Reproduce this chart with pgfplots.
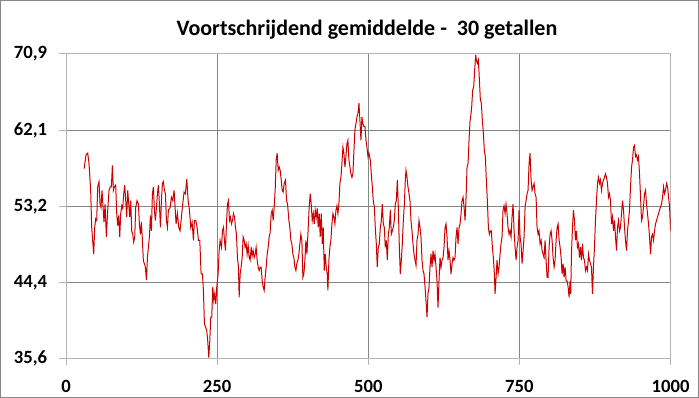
\documentclass[border=0pt]{standalone}
\usepackage{fontspec}
\setmainfont{Carlito}
\usepackage{pgfplots}
\pgfplotsset{compat=1.18}
\definecolor{gridgray}{RGB}{134,134,134}
\definecolor{framegray}{RGB}{180,180,180}
\definecolor{bordergray}{RGB}{134,134,134}
\definecolor{linered}{RGB}{204,0,0}
\begin{document}
\begin{tikzpicture}
\useasboundingbox (0,0) rectangle (524.25pt,298.5pt);
\draw[bordergray, line width=0.75pt] (0.375pt,0.375pt) rectangle (523.875pt,298.125pt);
\node[font=\fontsize{16.5}{19}\selectfont\bfseries, anchor=base] at (275.2pt,272pt) {Voortschrijdend gemiddelde -\ \ 30 getallen};
\begin{axis}[
  at={(49.5pt,29.6pt)}, anchor=south west,
  scale only axis, width=453.4pt, height=228.4pt,
  xmin=0, xmax=1000, ymin=35.6, ymax=70.9,
  xtick={0,250,500,750,1000},
  xticklabels={0,250,500,750,1000},
  ytick={35.6,44.425,53.25,62.075,70.9},
  yticklabels={{35,6},{44,4},{53,2},{62,1},{70,9}},
  tick pos=left, tick align=outside, major tick length=5pt,
  tick style={framegray, line width=0.75pt},
  axis line style={framegray, line width=0.75pt},
  grid=major, major grid style={gridgray, line width=0.75pt},
  ticklabel style={font=\fontsize{14}{16}\selectfont\bfseries},
  /pgf/number format/assume math mode=true,
  yticklabel style={xshift=-5.6pt},
  xticklabel style={yshift=-7.4pt},
]
\addplot[linered, line width=0.75pt] coordinates {
(30,57.6)(33.1,59.2)(35.9,59.4)(38.1,58.2)(40.8,55.1)(42.5,50.8)(44.1,49.3)(45.8,47.7)(47.5,50.8)(49.1,51.8)(50.8,51.6)(52.4,55.5)(54.6,56.1)(56.3,53.5)(57.9,53.1)(59.6,55.1)(61.3,53.1)(62.9,51.4)(64.6,53.5)(66.8,49.7)(69,52.8)(71.2,55.1)(73.4,55.5)(75.1,55.5)(76.7,58)(78.4,55.1)(80,55.5)(82.2,55.7)(83.9,52.4)(85.5,51)(87.2,52.2)(88.9,49.7)(90.5,52.4)(92.2,53.3)(93.8,53)(95.5,54.7)(97.1,55.7)(98.8,53.9)(100.4,52)(102.1,55.1)(103.8,53.5)(105.4,52)(107.1,53.9)(108.7,50.4)(110.4,50)(112,49.1)(113.7,49.7)(115.3,53.1)(117.5,53.9)(119.8,53.5)(121.4,51.2)(123.1,50)(124.7,51.4)(126.4,49.3)(128,46.9)(129.7,46.6)(131.3,46.2)(133,44.7)(134.7,47.3)(136.3,48.5)(138,49.7)(139.6,52.2)(141.3,50.4)(142.9,54.7)(144.6,55.5)(146.2,52.8)(147.9,51.6)(149.6,53.1)(151.2,54.7)(152.9,55.7)(154.5,53.5)(156.2,50.8)(157.8,53.9)(159.5,55.9)(161.1,56.1)(162.8,55.1)(164.5,54.7)(166.1,51.6)(167.8,50.8)(169.4,52.8)(172.2,53.1)
(174.4,54.3)(176.6,53.9)(178.8,55.1)(180.4,53.2)(182.1,51.2)(184.3,52.4)(186.5,50.8)(188.7,50.4)(190.9,52)(193.1,53.5)(195.3,54.9)(197.5,54.7)(199.8,56.4)(202,53.9)(204.2,52.8)(206.4,50.8)(208.6,51.4)(210.8,49.3)(212.4,51.6)(214.7,51.6)(216.9,50.8)(219.1,49.3)(221.3,49.3)(223.5,45.4)(225.7,45.4)(227.3,43.5)(229,39.6)(231.2,39.2)(232.9,38.8)(234.5,37.6)(236.2,35.7)(237.8,37.6)(239.5,40.4)(241.1,40.4)(242.8,43.9)(244.5,42.3)(246.1,43.1)(247.8,41.9)(249.4,43.9)(251.6,45.4)(253.3,48.1)(254.9,49.3)(257.2,48.5)(258.8,50.4)(260.5,50.8)(262.1,49.3)(263.8,48.1)(265.4,51.2)(267.1,53.5)(268.7,53.9)(270.4,51.6)(272,52)(273.7,51.2)(275.4,51.6)(277,52.4)(278.7,52)(280.3,50.8)(282,50)(283.6,47.3)(285.3,46.2)(286.4,42.7)(288.1,45.4)(289.7,46.2)(291.4,47.3)(293,49.7)(294.7,49.3)(296.3,48.5)(298,48.9)(299.6,47.7)(301.3,48.7)(303,47.3)(304.6,47)(306.3,48.5)(307.9,47.5)(309.6,48.1)(311.2,47.3)(312.9,47.7)(314.5,48.5)(316.2,47)(317.9,46.2)(319.5,45.8)(321.2,46.2)(322.8,46.2)(324.5,44.6)(326.1,43.9)(327.8,43.5)(329.4,45)(331.1,46.2)(332.8,47.7)(334.4,48.5)(336.1,49.7)(337.7,50.2)
(339.4,52.4)(341.1,52.8)(342.7,51.6)(344.4,53.2)(346,55.1)(347.7,58.6)(349.3,59.4)(351,57.4)(352.7,57.8)(354.3,57.4)(356,56.3)(357.6,55.1)(359.3,54.9)(360.9,55.9)(363.1,56.3)(364.8,53.9)(366.5,53.5)(368.7,51.6)(370.3,50.8)(372,49.3)(373.6,48.9)(375.3,47.7)(376.9,47.3)(378.6,46.2)(380.3,45.8)(381.9,46.6)(383.6,47)(385.2,47.7)(386.9,48.9)(388.5,50)(390.2,49.3)(391.8,45)(393.5,45.4)(395.2,47)(396.8,49.3)(398.5,47.7)(400.7,50.8)(402.3,53.2)(404,54.7)(405.6,53.5)(407.3,51.6)(409,52.4)(410.6,51.2)(412.3,52.8)(413.9,52)(415.6,53)(417.2,50.8)(418.9,52.4)(420.5,49.7)(422.2,52.4)(423.9,48.9)(425.5,50.8)(427.2,45.8)(428.8,47.7)(430.5,46.2)(432.1,45.4)(433.2,43.5)(434.9,47)(436.5,48.5)(438.2,49.3)(439.9,51.2)(441.5,52.4)(443.2,52)(444.8,51.2)(446.5,52.8)(448.1,53.3)(449.8,52.4)(451.4,53.5)(453.1,55.9)(454.8,56.6)(456.4,58.2)(458.1,60.1)(459.7,59.4)(461.4,57.8)(463,59)(464.7,60.5)(466.3,60.9)(468,58.6)(469.7,57.8)(471.3,57)(473,56.6)(474.6,57)(476.3,59.7)(477.9,62.1)(479.6,62.8)(481.3,63.6)(482.9,64)(484.6,65.2)(486.2,63.2)(487.9,60.9)(489.5,63.6)(491.2,62.8)(492.8,62.5)(494.5,62.5)(496.2,60.9)(497.8,60.1)(499.5,59)(501.1,59.4)
(503.4,58.6)(505,57)(506.7,55.5)(508.3,53.9)(510,53.2)(511.6,50.8)(513.3,48.9)(514.9,46.2)(516.6,48.5)(518.3,48.9)(519.9,50.8)(521.6,51.6)(523.2,53.5)(524.9,51.2)(526.5,50.8)(528.2,48.5)(529.8,49.3)(531.5,47)(533.2,50)(534.8,50.8)(536.5,52.8)(538.1,50)(539.8,50.4)(541.4,50.8)(543.1,51.6)(544.7,53.5)(546.4,53.9)(548.1,56.3)(549.7,53.2)(551.4,48.5)(553,45.4)(554.7,47)(556.3,48.9)(558,51.6)(559.7,53.5)(561.3,56.3)(562.4,57.4)(564.1,56.6)(565.7,55.5)(567.4,54.7)(569,53.9)(570.7,51.6)(572.3,50.4)(574,48.9)(575.7,47.7)(577.3,47)(579,46.4)(580.6,49.3)(582.3,50)(583.9,51.6)(585.6,50.8)(587.2,49.7)(588.9,47)(590.6,45.8)(592.2,45.4)(593.9,43.9)(595.5,42.3)(597.2,40.4)(598.8,43.1)(600.5,43.9)(602.1,46.2)(603.8,47.7)(605.5,46.2)(607.1,48.1)(608.8,47)(610.4,47.7)(612.1,46.2)(613.7,44.6)(615.4,41.5)(617,44.6)(618.7,47.3)(620.4,46.2)(622,47)(623.7,47.3)(625.3,48.5)(627,50.8)(628.6,51.2)(630.3,49.7)(631.9,47)(633.6,48.1)(635.3,47)(636.9,45.4)(638.6,46.6)(640.2,47.3)(641.9,47)(643.5,47.3)(645.2,49.7)(646.9,50.8)(648.5,48.9)(650.2,50.8)(651.8,51.2)(653.5,52.4)(655.1,53.9)(656.8,54.3)(658.4,53.2)(660.1,51.6)(661.8,54.3)(663.4,57.8)(665.1,58.2)(666.7,60.9)(668.4,63.2)
(669.4,63.6)(671.1,64.8)(672.7,66.7)(674.4,67.1)(676,69)(677.7,70.8)(678.8,70.2)(680.4,69.8)(682.1,70.2)(683.8,67.9)(685.4,65.6)(687.1,65.2)(688.7,63.2)(690.4,61.7)(692,59.7)(693.7,59)(695.3,56.3)(697,53.9)(698.7,50.8)(700.3,50)(702,50.4)(703.6,50.4)(705.3,48.5)(706.9,47.3)(708.6,45.4)(709.7,43.1)(711.4,45)(713,47)(714.7,45.4)(716.3,46.2)(718,47.7)(719.6,48.9)(721.3,49.7)(722.9,52.8)(724.6,53.3)(726.3,52.4)(727.9,53.5)(729.6,52.4)(731.2,50.8)(732.9,50)(734.5,50.4)(736.2,49.7)(737.8,52)(739.5,53.5)(741.2,50.4)(742.8,48.5)(744.5,47)(746.1,48.5)(747.8,49.3)(749.4,52.8)(751.1,49.7)(752.7,48.9)(754.4,46.6)(756.1,48.1)(757.7,49.7)(759.4,53.2)(761,53.9)(762.7,54.7)(764.3,55.1)(766,58.2)(767.6,59.4)(769.3,56.3)(771,55.1)(772.6,55.5)(774.3,55.9)(775.9,54.7)(777.6,54.3)(779.2,50.8)(780.9,50)(782.5,50.4)(784.2,48.9)(785.9,49.3)(787.5,48.1)(789.2,47.7)(790.8,47.3)(792.5,49.3)(794.1,47)(795.8,45)(797.4,45)(799.1,48.5)(800.8,50)(802.4,50.4)(804.1,49.3)(805.7,47.3)(807.4,46.2)(809,47)(810.7,49.3)(812.4,50.8)(814,51.2)(815.7,49.3)(817.3,48.5)(819,47.3)(820.6,45.4)(822.3,46.6)(823.9,45)(825.6,46.2)(827.3,44.6)(828.9,44.6)(830.6,43.9)(832.2,42.7)(833.9,44.6)
(834.9,43.1)(836.1,47.7)(837.8,50.8)(839.4,52.8)(841.1,51.6)(842.7,49.3)(844.4,50.4)(846,48.5)(847.7,48.9)(849.4,47.3)(851,48.5)(852.7,47)(854.3,48.9)(856,47.3)(857.6,47)(859.3,45.8)(860.9,46.2)(862.6,45.8)(864.3,47.7)(865.9,47)(867.6,46.6)(869.2,46.2)(870.9,43.1)(872.5,46.2)(874.2,48.5)(875.8,51.6)(877.5,53.9)(879.2,55.9)(880.8,56.6)(882.5,55.9)(884.1,56.3)(885.8,55.1)(887.4,55.9)(889.1,56.3)(890.8,56.6)(892.4,57)(894.1,56.6)(895.7,55.9)(897.4,54.3)(899,54.7)(900.7,53.9)(902.3,51.2)(904,52)(905.7,50.4)(907.3,51.6)(909,49.7)(910.6,48.1)(912.3,50.8)(913.9,51.6)(915.6,50.4)(917.2,50.8)(918.9,52.4)(920.6,53.9)(922.2,52.8)(923.9,50.8)(925.5,49.3)(927.2,48.1)(928.8,50.4)(930.5,51.6)(932.1,52.8)(933.8,55.5)(935.5,57.8)(937.1,58.6)(938.8,60.1)(940.4,60.3)(942.1,59)(943.7,59.2)(945.4,58.6)(947,59)(948.7,57)(950.4,54.3)(952,51.6)(953.7,52)(955.3,53.2)(957,54.7)(958.6,55.1)(960.3,53.5)(961.9,52.4)(963.6,51.2)(965.3,49.7)(966.9,47.7)(968.6,49.7)(970.2,50)(971.9,49.3)(973.5,50.4)(975.2,51.2)(976.8,51.6)(978.5,52)(980.2,52.4)(981.8,52.8)(983.5,53.2)(985.1,53.5)(986.8,54.3)(988.4,55.5)(990.1,54.7)(991.7,55.1)(993.4,55.9)(995.1,55.5)(996.7,54.3)(998.4,53.2)(1000,50.4)
};
\end{axis}
\end{tikzpicture}
\end{document}
